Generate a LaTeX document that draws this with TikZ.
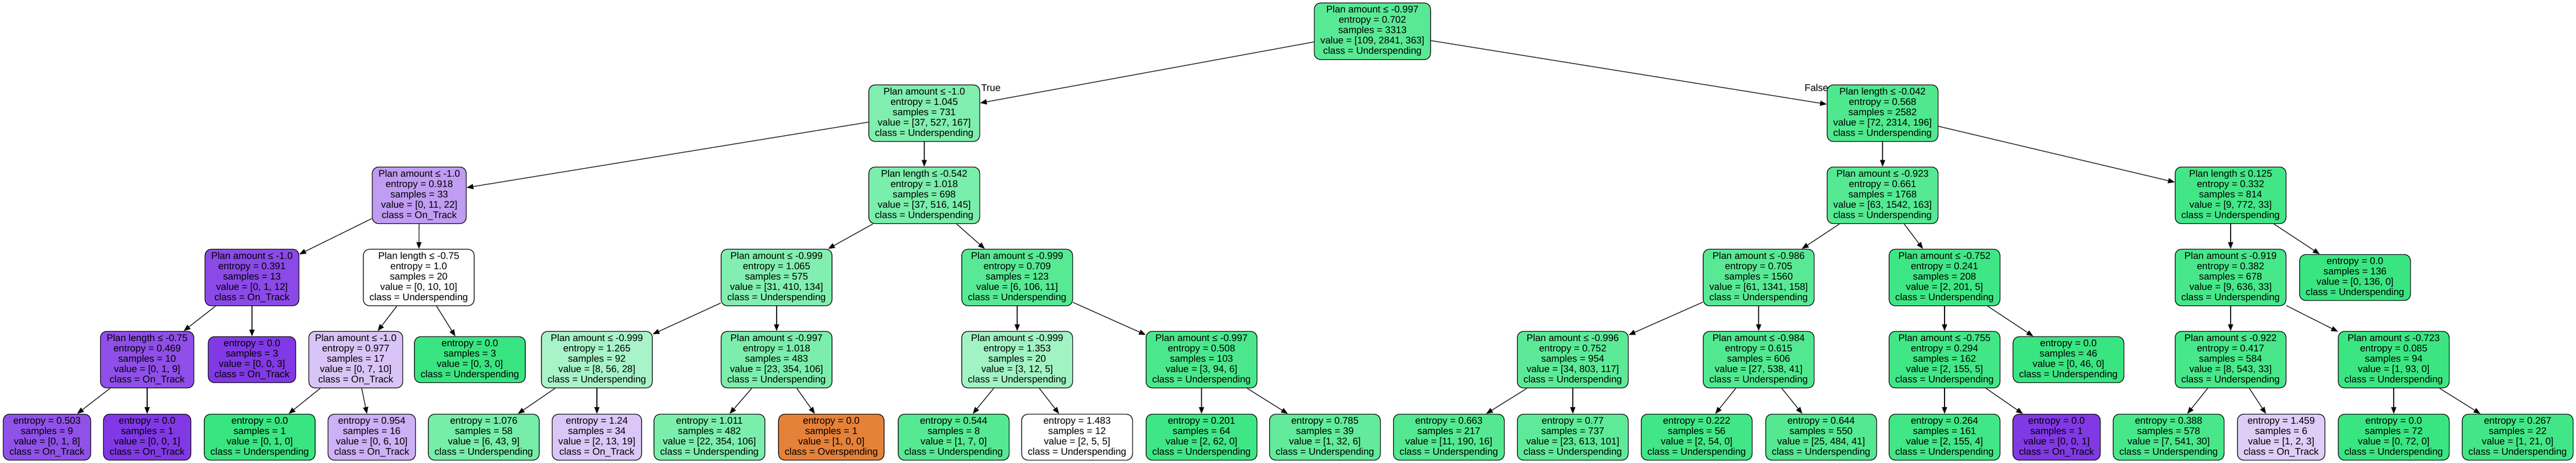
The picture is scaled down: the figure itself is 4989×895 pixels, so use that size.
\documentclass[tikz,border=0pt]{standalone}
\usepackage{fontspec}
\usetikzlibrary{arrows.meta}
\newfontfamily\nf{Liberation Sans}
\newcommand{\nodefont}{\nf\fontsize{18.7}{20}\selectfont}
\newcommand{\ns}{\rule[-5pt]{0pt}{15pt}}
\newcommand{\itn}[5]{\ns #1\\entropy = #2\\samples = #3\\value = [#4]\\class = #5\ns}
\newcommand{\lfn}[4]{\ns entropy = #1\\samples = #2\\value = [#3]\\class = #4\ns}
\definecolor{cO}{RGB}{229,129,57}
\definecolor{cU}{RGB}{57,229,129}
\definecolor{cT}{RGB}{129,57,229}
\tikzset{
  tn/.style={draw=black, line width=1.3pt, rounded corners=12pt, align=center,
    inner xsep=12pt, inner ysep=5.5pt, font=\nodefont, text=black},
  ed/.style={draw=black, line width=1.3pt, -{Triangle[length=13pt,width=10pt]}},
  lbl/.style={font=\nodefont, inner sep=0pt, text=black},
}
\begin{document}
\begin{tikzpicture}[x=1pt,y=-1pt]
\fill[white] (0,0) rectangle (4989,895);
\useasboundingbox (0,0) rectangle (4989,895);
% level 0
\node[tn, fill=cU!84!white] (n0) at (2658,60.5) {\itn{Plan amount ≤ -0.997}{0.702}{3313}{109, 2841, 363}{Underspending}};
% level 1
\node[tn, fill=cU!64!white] (L1a) at (1790,219) {\itn{Plan amount ≤ -1.0}{1.045}{731}{37, 527, 167}{Underspending}};
\node[tn, fill=cU!89!white] (L1b) at (3646,219) {\itn{Plan length ≤ -0.042}{0.568}{2582}{72, 2314, 196}{Underspending}};
% level 2
\node[tn, fill=cT!50!white] (L2a) at (812,378) {\itn{Plan amount ≤ -1.0}{0.918}{33}{0, 11, 22}{On\_Track}};
\node[tn, fill=cU!67!white] (L2b) at (1790,378) {\itn{Plan length ≤ -0.542}{1.018}{698}{37, 516, 145}{Underspending}};
\node[tn, fill=cU!86!white] (L2c) at (3646,378) {\itn{Plan amount ≤ -0.923}{0.661}{1768}{63, 1542, 163}{Underspending}};
\node[tn, fill=cU!95!white] (L2d) at (4320,378) {\itn{Plan length ≤ 0.125}{0.332}{814}{9, 772, 33}{Underspending}};
% level 3
\node[tn, fill=cT!92!white] (L3a) at (488,537) {\itn{Plan amount ≤ -1.0}{0.391}{13}{0, 1, 12}{On\_Track}};
\node[tn, fill=white] (L3b) at (811,537) {\itn{Plan length ≤ -0.75}{1.0}{20}{0, 10, 10}{Underspending}};
\node[tn, fill=cU!63!white] (L3c) at (1504,537) {\itn{Plan amount ≤ -0.999}{1.065}{575}{31, 410, 134}{Underspending}};
\node[tn, fill=cU!85!white] (L3d) at (1970,537) {\itn{Plan amount ≤ -0.999}{0.709}{123}{6, 106, 11}{Underspending}};
\node[tn, fill=cU!84!white] (L3e) at (3406,537) {\itn{Plan amount ≤ -0.986}{0.705}{1560}{61, 1341, 158}{Underspending}};
\node[tn, fill=cU!97!white] (L3f) at (3766,537) {\itn{Plan amount ≤ -0.752}{0.241}{208}{2, 201, 5}{Underspending}};
\node[tn, fill=cU!93!white] (L3g) at (4320,537) {\itn{Plan amount ≤ -0.919}{0.382}{678}{9, 636, 33}{Underspending}};
\node[tn, fill=cU] (L3h) at (4561,537) {\lfn{0.0}{136}{0, 136, 0}{Underspending}};
% level 4
\node[tn, fill=cT!89!white] (L4a) at (285,696) {\itn{Plan length ≤ -0.75}{0.469}{10}{0, 1, 9}{On\_Track}};
\node[tn, fill=cT] (L4b) at (488,696) {\lfn{0.0}{3}{0, 0, 3}{On\_Track}};
\node[tn, fill=cT!30!white] (L4c) at (689,696) {\itn{Plan amount ≤ -1.0}{0.977}{17}{0, 7, 10}{On\_Track}};
\node[tn, fill=cU] (L4d) at (910,696) {\lfn{0.0}{3}{0, 3, 0}{Underspending}};
\node[tn, fill=cU!44!white] (L4e) at (1156,696) {\itn{Plan amount ≤ -0.999}{1.265}{92}{8, 56, 28}{Underspending}};
\node[tn, fill=cU!66!white] (L4f) at (1504,696) {\itn{Plan amount ≤ -0.997}{1.018}{483}{23, 354, 106}{Underspending}};
\node[tn, fill=cU!47!white] (L4g) at (1970,696) {\itn{Plan amount ≤ -0.999}{1.353}{20}{3, 12, 5}{Underspending}};
\node[tn, fill=cU!91!white] (L4h) at (2327,696) {\itn{Plan amount ≤ -0.997}{0.508}{103}{3, 94, 6}{Underspending}};
\node[tn, fill=cU!82!white] (L4i) at (3046,696) {\itn{Plan amount ≤ -0.996}{0.752}{954}{34, 803, 117}{Underspending}};
\node[tn, fill=cU!88!white] (L4j) at (3406,696) {\itn{Plan amount ≤ -0.984}{0.615}{606}{27, 538, 41}{Underspending}};
\node[tn, fill=cU!96!white] (L4k) at (3766,696) {\itn{Plan amount ≤ -0.755}{0.294}{162}{2, 155, 5}{Underspending}};
\node[tn, fill=cU] (L4l) at (4006,696) {\lfn{0.0}{46}{0, 46, 0}{Underspending}};
\node[tn, fill=cU!93!white] (L4m) at (4320,696) {\itn{Plan amount ≤ -0.922}{0.417}{584}{8, 543, 33}{Underspending}};
\node[tn, fill=cU!99!white] (L4n) at (4636,696) {\itn{Plan amount ≤ -0.723}{0.085}{94}{1, 93, 0}{Underspending}};
% level 5
\node[tn, fill=cT!88!white] (L5a) at (91,846) {\lfn{0.503}{9}{0, 1, 8}{On\_Track}};
\node[tn, fill=cT] (L5b) at (285,846) {\lfn{0.0}{1}{0, 0, 1}{On\_Track}};
\node[tn, fill=cU] (L5c) at (503,846) {\lfn{0.0}{1}{0, 1, 0}{Underspending}};
\node[tn, fill=cT!40!white] (L5d) at (720,846) {\lfn{0.954}{16}{0, 6, 10}{On\_Track}};
\node[tn, fill=cU!69!white] (L5e) at (937,846) {\lfn{1.076}{58}{6, 43, 9}{Underspending}};
\node[tn, fill=cT!29!white] (L5f) at (1156,846) {\lfn{1.24}{34}{2, 13, 19}{On\_Track}};
\node[tn, fill=cU!66!white] (L5g) at (1374,846) {\lfn{1.011}{482}{22, 354, 106}{Underspending}};
\node[tn, fill=cO] (L5h) at (1610,846) {\lfn{0.0}{1}{1, 0, 0}{Overspending}};
\node[tn, fill=cU!86!white] (L5i) at (1847,846) {\lfn{0.544}{8}{1, 7, 0}{Underspending}};
\node[tn, fill=white] (L5j) at (2086,846) {\lfn{1.483}{12}{2, 5, 5}{Underspending}};
\node[tn, fill=cU!97!white] (L5k) at (2327,846) {\lfn{0.201}{64}{2, 62, 0}{Underspending}};
\node[tn, fill=cU!79!white] (L5l) at (2566,846) {\lfn{0.785}{39}{1, 32, 6}{Underspending}};
\node[tn, fill=cU!87!white] (L5m) at (2806,846) {\lfn{0.663}{217}{11, 190, 16}{Underspending}};
\node[tn, fill=cU!81!white] (L5n) at (3046,846) {\lfn{0.77}{737}{23, 613, 101}{Underspending}};
\node[tn, fill=cU!96!white] (L5o) at (3286,846) {\lfn{0.222}{56}{2, 54, 0}{Underspending}};
\node[tn, fill=cU!87!white] (L5p) at (3527,846) {\lfn{0.644}{550}{25, 484, 41}{Underspending}};
\node[tn, fill=cU!96!white] (L5q) at (3766,846) {\lfn{0.264}{161}{2, 155, 4}{Underspending}};
\node[tn, fill=cT] (L5r) at (3983,846) {\lfn{0.0}{1}{0, 0, 1}{On\_Track}};
\node[tn, fill=cU!93!white] (L5s) at (4200,846) {\lfn{0.388}{578}{7, 541, 30}{Underspending}};
\node[tn, fill=cT!25!white] (L5t) at (4418,846) {\lfn{1.459}{6}{1, 2, 3}{On\_Track}};
\node[tn, fill=cU] (L5u) at (4636,846) {\lfn{0.0}{72}{0, 72, 0}{Underspending}};
\node[tn, fill=cU!95!white] (L5v) at (4876,846) {\lfn{0.267}{22}{1, 21, 0}{Underspending}};
% edge labels
\node[lbl, anchor=base west] (tT) at ([shift={(2,13)}]L1a.north east) {True};
\node[lbl, anchor=base east] (tF) at ([shift={(3,13)}]L1b.north west) {False};
% edges
\draw[ed] (n0) -- (L1a);
\draw[ed] (n0) -- (L1b);
\draw[ed] (L1a) -- (L2a);
\draw[ed] (L1a) -- (L2b);
\draw[ed] (L2a) -- (L3a);
\draw[ed] (L2a) -- (L3b);
\draw[ed] (L3a) -- (L4a);
\draw[ed] (L3a) -- (L4b);
\draw[ed] (L4a) -- (L5a);
\draw[ed] (L4a) -- (L5b);
\draw[ed] (L3b) -- (L4c);
\draw[ed] (L3b) -- (L4d);
\draw[ed] (L4c) -- (L5c);
\draw[ed] (L4c) -- (L5d);
\draw[ed] (L2b) -- (L3c);
\draw[ed] (L2b) -- (L3d);
\draw[ed] (L3c) -- (L4e);
\draw[ed] (L3c) -- (L4f);
\draw[ed] (L4e) -- (L5e);
\draw[ed] (L4e) -- (L5f);
\draw[ed] (L4f) -- (L5g);
\draw[ed] (L4f) -- (L5h);
\draw[ed] (L3d) -- (L4g);
\draw[ed] (L3d) -- (L4h);
\draw[ed] (L4g) -- (L5i);
\draw[ed] (L4g) -- (L5j);
\draw[ed] (L4h) -- (L5k);
\draw[ed] (L4h) -- (L5l);
\draw[ed] (L1b) -- (L2c);
\draw[ed] (L1b) -- (L2d);
\draw[ed] (L2c) -- (L3e);
\draw[ed] (L2c) -- (L3f);
\draw[ed] (L3e) -- (L4i);
\draw[ed] (L3e) -- (L4j);
\draw[ed] (L4i) -- (L5m);
\draw[ed] (L4i) -- (L5n);
\draw[ed] (L4j) -- (L5o);
\draw[ed] (L4j) -- (L5p);
\draw[ed] (L3f) -- (L4k);
\draw[ed] (L3f) -- (L4l);
\draw[ed] (L4k) -- (L5q);
\draw[ed] (L4k) -- (L5r);
\draw[ed] (L2d) -- (L3g);
\draw[ed] (L2d) -- (L3h);
\draw[ed] (L3g) -- (L4m);
\draw[ed] (L3g) -- (L4n);
\draw[ed] (L4m) -- (L5s);
\draw[ed] (L4m) -- (L5t);
\draw[ed] (L4n) -- (L5u);
\draw[ed] (L4n) -- (L5v);
\end{tikzpicture}
\end{document}
